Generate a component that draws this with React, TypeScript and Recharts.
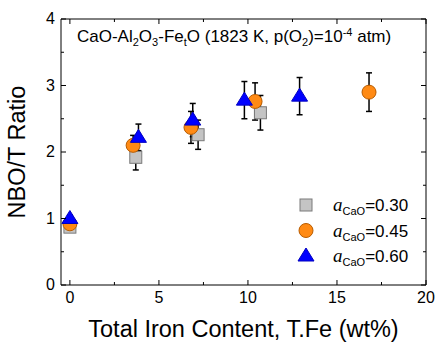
import { ScatterChart, Scatter, XAxis, YAxis, ErrorBar, Legend, Customized } from "recharts";

// a_CaO = 0.30
const feA = [0, 3.7, 7.2, 10.7];
const nboA = [0.87, 1.92, 2.26, 2.59];
const errA = [0.06, 0.19, 0.22, 0.26];
// a_CaO = 0.45
const feB = [0, 3.55, 6.8, 10.4, 16.8];
const nboB = [0.92, 2.1, 2.37, 2.76, 2.9];
const errB = [0.05, 0.15, 0.24, 0.28, 0.29];
// a_CaO = 0.60
const feC = [0, 3.85, 6.9, 9.8, 12.9];
const nboC = [1.0, 2.22, 2.48, 2.78, 2.84];
const errC = [0.05, 0.2, 0.25, 0.28, 0.28];

const xTicks = [0, 2.5, 5, 7.5, 10, 12.5, 15, 17.5, 20];
const yTicks = [0, 0.5, 1, 1.5, 2, 2.5, 3, 3.5, 4];
const xMajor = [0, 5, 10, 15, 20];
const yMajor = [0, 1, 2, 3, 4];
const xDom: [number, number] = [-0.5, 20];
const yDom: [number, number] = [0, 4];

const serie = (x: number[], y: number[], e: number[]) =>
  x.map((v, i) => ({ fe: v, nbo: y[i], err: e[i] }));

const FONT = "Liberation Sans, Arial, sans-serif";

// tamanho do gráfico e margens (a área de plotagem sai daqui)
const W = 442;
const H = 352;
const M = { top: 19, right: 16, bottom: 0, left: 0 };
const EIXO_X_ALT = 67;
const EIXO_Y_LARG = 61;
const PX = M.left + EIXO_Y_LARG;
const PY = M.top;
const PLOT_W = W - M.left - M.right - EIXO_Y_LARG;
const PLOT_H = H - M.top - M.bottom - EIXO_X_ALT;

const Quadrado = (p: any) => (
  <rect x={p.cx - 6} y={p.cy - 6} width={12} height={12} fill="#c4c4c4" stroke="#7a7a7a" strokeWidth={1} />
);
const Circulo = (p: any) => (
  <circle cx={p.cx} cy={p.cy} r={7} fill="#ff8a14" stroke="#b85c00" strokeWidth={1} />
);
const Triangulo = (p: any) => (
  <polygon
    points={`${p.cx},${p.cy - 8} ${p.cx + 8},${p.cy + 5} ${p.cx - 8},${p.cy + 5}`}
    fill="#0000ff"
    stroke="#0000c0"
    strokeWidth={1}
  />
);

const TickX = (p: any) => {
  const v = p.payload.value;
  const major = xMajor.includes(v);
  const len = major ? 5 : 3;
  return (
    <g>
      <line x1={p.x} x2={p.x} y1={p.y} y2={p.y - len} stroke="#000" strokeWidth={1} />
      {major && (
        <text x={p.x} y={p.y + 18} textAnchor="middle" fontSize={16} fontFamily={FONT} fill="#000">
          {v}
        </text>
      )}
    </g>
  );
};

const TickY = (p: any) => {
  const v = p.payload.value;
  const major = yMajor.includes(v);
  const len = major ? 5 : 3;
  return (
    <g>
      <line x1={p.x} x2={p.x + len} y1={p.y} y2={p.y} stroke="#000" strokeWidth={1} />
      {major && (
        <text x={p.x - 6} y={p.y + 5} textAnchor="end" fontSize={16} fontFamily={FONT} fill="#000">
          {v}
        </text>
      )}
    </g>
  );
};

// moldura de cima e da direita, com ticks espelhados
const Moldura = () => {
  const sx = (v: number) => PX + ((v - xDom[0]) / (xDom[1] - xDom[0])) * PLOT_W;
  const sy = (v: number) => PY + PLOT_H - ((v - yDom[0]) / (yDom[1] - yDom[0])) * PLOT_H;
  const dir = PX + PLOT_W;
  return (
    <g>
      <line x1={PX} x2={dir} y1={PY} y2={PY} stroke="#000" strokeWidth={1} />
      <line x1={dir} x2={dir} y1={PY} y2={PY + PLOT_H} stroke="#000" strokeWidth={1} />
      {xTicks.map((v) => (
        <line key={`x${v}`} x1={sx(v)} x2={sx(v)} y1={PY} y2={PY + (xMajor.includes(v) ? 5 : 3)} stroke="#000" strokeWidth={1} />
      ))}
      {yTicks.map((v) => (
        <line key={`y${v}`} x1={dir} x2={dir - (yMajor.includes(v) ? 5 : 3)} y1={sy(v)} y2={sy(v)} stroke="#000" strokeWidth={1} />
      ))}
    </g>
  );
};

const Titulo = () => (
  <text x={77} y={42} fontSize={17} fontFamily={FONT} fill="#000">
    CaO-Al<tspan fontSize={11} dy={4}>2</tspan>
    <tspan dy={-4}>O</tspan>
    <tspan fontSize={11} dy={4}>3</tspan>
    <tspan dy={-4}>-Fe</tspan>
    <tspan fontSize={11} dy={4}>t</tspan>
    <tspan dy={-4}>O (1823 K, p(O</tspan>
    <tspan fontSize={11} dy={4}>2</tspan>
    <tspan dy={-4}>)=10</tspan>
    <tspan fontSize={11} dy={-6}>-4</tspan>
    <tspan dy={6}> atm)</tspan>
  </text>
);

const Extras = () => (
  <g>
    <Moldura />
    <Titulo />
  </g>
);

const itens = [
  { rotulo: "0.30", forma: Quadrado },
  { rotulo: "0.45", forma: Circulo },
  { rotulo: "0.60", forma: Triangulo },
];

const Legenda = () => (
  <svg width={130} height={80}>
    {itens.map((it, i) => {
      const F = it.forma;
      const cy = 12 + i * 25.5;
      return (
        <g key={it.rotulo}>
          <F cx={12} cy={cy} />
          <text x={39} y={cy + 6} fontSize={17} fontFamily={FONT} fill="#000">
            <tspan fontFamily="Liberation Serif, Times New Roman, serif" fontStyle="italic" fontSize={19}>a</tspan>
            <tspan fontSize={11} dy={4}>CaO</tspan>
            <tspan dy={-4}>={it.rotulo}</tspan>
          </text>
        </g>
      );
    })}
  </svg>
);

export default function App() {
  return (
    <div style={{ position: "absolute", left: 0, top: 0 }}>
      <ScatterChart width={W} height={H} margin={M}>
        <XAxis
          type="number"
          dataKey="fe"
          domain={xDom}
          ticks={xTicks}
          interval={0}
          height={EIXO_X_ALT}
          tickSize={0}
          tickMargin={0}
          tickLine={false}
          stroke="#000"
          tick={TickX}
          allowDataOverflow
          label={{ value: "Total Iron Content, T.Fe (wt%)", position: "insideBottom", offset: 15, fontSize: 23.5, fontFamily: FONT, fill: "#000" }}
        />
        <YAxis
          type="number"
          dataKey="nbo"
          domain={yDom}
          ticks={yTicks}
          interval={0}
          width={EIXO_Y_LARG}
          tickSize={0}
          tickMargin={0}
          tickLine={false}
          stroke="#000"
          tick={TickY}
          allowDataOverflow
          label={{ value: "NBO/T Ratio", angle: -90, position: "insideLeft", offset: 17, fontSize: 23.5, fontFamily: FONT, fill: "#000", style: { textAnchor: "middle" } }}
        />
        <Scatter data={serie(feA, nboA, errA)} shape={Quadrado} isAnimationActive={false}>
          <ErrorBar dataKey="err" direction="y" width={3} stroke="#000" strokeWidth={1.5} />
        </Scatter>
        <Scatter data={serie(feB, nboB, errB)} shape={Circulo} isAnimationActive={false}>
          <ErrorBar dataKey="err" direction="y" width={3} stroke="#000" strokeWidth={1.5} />
        </Scatter>
        <Scatter data={serie(feC, nboC, errC)} shape={Triangulo} isAnimationActive={false}>
          <ErrorBar dataKey="err" direction="y" width={3} stroke="#000" strokeWidth={1.5} />
        </Scatter>
        <Legend
          layout="horizontal"
          verticalAlign="middle"
          align="center"
          content={Legenda}
          wrapperStyle={{ position: "absolute", left: 294, top: 193, width: 140, height: 80 }}
        />
        <Customized component={Extras} />
      </ScatterChart>
    </div>
  );
}
